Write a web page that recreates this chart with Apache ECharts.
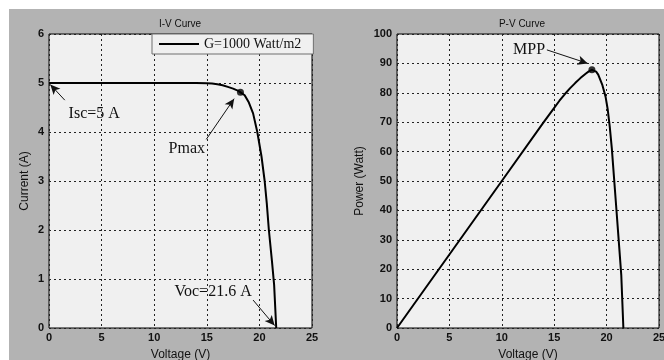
<!DOCTYPE html>
<html>
<head>
<meta charset="utf-8">
<script src="https://cdn.jsdelivr.net/npm/echarts@6/dist/echarts.min.js"></script>
<style>
  html, body { margin: 0; padding: 0; background: #ffffff; }
  #chart { width: 664px; height: 360px; }
</style>
</head>
<body>
<div id="chart"></div>
<script>
// I-V characteristic of the PV module at G = 1000 W/m2
const ivVoltage = [0, 5, 10, 14, 15, 15.5, 16, 16.5, 17, 17.5, 18, 18.2, 18.6, 19, 19.4, 19.8, 20.2, 20.5, 20.7, 20.9, 21.2, 21.4, 21.6];
const ivCurrent = [5, 5, 5, 5, 4.995, 4.99, 4.975, 4.955, 4.92, 4.885, 4.84, 4.81, 4.75, 4.6, 4.38, 4.0, 3.5, 3.0, 2.55, 2.0, 1.35, 0.88, 0];

// P-V characteristic of the same module
const pvVoltage = [0, 5, 10, 14, 15, 15.5, 16, 16.5, 17, 17.5, 18, 18.3, 18.6, 19, 19.2, 19.6, 19.9, 20.1, 20.3, 20.5, 20.7, 20.9, 21.2, 21.4, 21.6];
const pvPower = [0, 25, 50, 70, 74.9, 77.3, 79.5, 81.5, 83.3, 85, 86.5, 87.3, 87.8, 87.2, 86.2, 82.6, 78.7, 74.5, 68.5, 61, 51.5, 42, 27.7, 18, 0];

// Operating points marked on the curves
const pmaxPoint = [18.2, 4.81];
const mppPoint = [18.6, 87.8];

// Axis ticks
const voltageTicks = [0, 5, 10, 15, 20, 25];
const currentTicks = [0, 1, 2, 3, 4, 5, 6];
const powerTicks = [0, 10, 20, 30, 40, 50, 60, 70, 80, 90, 100];

const legendName = 'G=1000 Watt/m2';

const chart = echarts.init(document.getElementById('chart'), null, { renderer: 'canvas' });

const sans = 'Liberation Sans, Arial, sans-serif';
const serif = 'Liberation Serif, Times New Roman, serif';
const ink = '#111111';

function pairs(xs, ys) { return xs.map((x, i) => [x, ys[i]]); }

function gridLine() {
  return { show: true, lineStyle: { color: '#222', width: 1, type: [2, 3] } };
}

function valueAxis(extra) {
  return Object.assign({
    type: 'value',
    axisLine: { show: false },
    axisTick: { show: false },
    splitLine: gridLine(),
    nameTextStyle: { color: ink, fontFamily: sans, fontSize: 12 }
  }, extra);
}

function tickLabels(margin) {
  return { color: ink, fontFamily: sans, fontSize: 11, fontWeight: 'bold', margin: margin };
}

function noteStyle(text) {
  return { show: true, formatter: text, color: ink, fontFamily: serif, fontSize: 16 };
}

function arrow(from, to) {
  return [{ coord: from }, { coord: to }];
}

const arrowStyle = {
  silent: true,
  symbol: ['none', 'arrow'],
  symbolSize: [7, 10],
  lineStyle: { color: '#111', width: 1, type: 'solid' },
  label: { show: false },
  emphasis: { disabled: true },
  animation: false
};

const noteMarks = (items) => ({
  silent: true,
  symbol: 'circle',
  symbolSize: 0,
  itemStyle: { color: 'transparent' },
  animation: false,
  data: items.map(it => ({ coord: it.coord, label: noteStyle(it.text) }))
});

chart.setOption({
  backgroundColor: '#ffffff',
  animation: false,
  graphic: [{
    type: 'rect', z: -10, silent: true,
    shape: { x: 9, y: 9, width: 655, height: 351 },
    style: { fill: '#b3b3b3' }
  }],
  title: [
    { text: 'I-V Curve', left: 175, top: 14, textAlign: 'center',
      textStyle: { color: ink, fontFamily: sans, fontSize: 10, fontWeight: 'normal' } },
    { text: 'P-V Curve', left: 517, top: 14, textAlign: 'center',
      textStyle: { color: ink, fontFamily: sans, fontSize: 10, fontWeight: 'normal' } }
  ],
  legend: {
    data: [{ name: legendName, icon: 'rect' }],
    selectedMode: false,
    left: 152, top: 34,
    orient: 'horizontal',
    itemWidth: 40, itemHeight: 2,
    padding: [3, 12, 3, 7],
    backgroundColor: '#f0f0f0',
    borderColor: '#6f6f6f', borderWidth: 1, borderRadius: 0,
    textStyle: { color: ink, fontFamily: serif, fontSize: 14 }
  },
  grid: [
    { left: 49, top: 34, width: 263, height: 294, show: true, outerBoundsMode: 'none', containLabel: false,
      backgroundColor: '#f0f0f0', borderColor: '#000', borderWidth: 1 },
    { left: 397, top: 34, width: 262, height: 294, show: true, outerBoundsMode: 'none', containLabel: false,
      backgroundColor: '#f0f0f0', borderColor: '#000', borderWidth: 1 }
  ],
  xAxis: [
    valueAxis({ gridIndex: 0, min: voltageTicks[0], max: voltageTicks[voltageTicks.length - 1], interval: 5,
      name: 'Voltage (V)', nameLocation: 'middle', nameGap: 21, axisLabel: tickLabels(4) }),
    valueAxis({ gridIndex: 1, min: voltageTicks[0], max: voltageTicks[voltageTicks.length - 1], interval: 5,
      name: 'Voltage (V)', nameLocation: 'middle', nameGap: 21, axisLabel: tickLabels(4) })
  ],
  yAxis: [
    valueAxis({ gridIndex: 0, min: currentTicks[0], max: currentTicks[currentTicks.length - 1], interval: 1,
      name: 'Current (A)', nameLocation: 'middle', nameGap: 18, axisLabel: tickLabels(5) }),
    valueAxis({ gridIndex: 1, min: powerTicks[0], max: powerTicks[powerTicks.length - 1], interval: 10,
      name: 'Power (Watt)', nameLocation: 'middle', nameGap: 31, axisLabel: tickLabels(5) })
  ],
  series: [
    {
      name: legendName, type: 'line', xAxisIndex: 0, yAxisIndex: 0,
      data: pairs(ivVoltage, ivCurrent),
      showSymbol: false,
      lineStyle: { color: '#000', width: 2 }, itemStyle: { color: '#000' },
      markLine: Object.assign({}, arrowStyle, {
        data: [
          arrow([1.5, 4.65], [0.12, 4.97]),
          arrow([14.95, 3.85], [17.6, 4.68]),
          arrow([19.4, 0.57], [21.45, 0.05])
        ]
      }),
      markPoint: noteMarks([
        { coord: [4.3, 4.38], text: 'Isc=5 A' },
        { coord: [13.1, 3.66], text: 'Pmax' },
        { coord: [15.6, 0.74], text: 'Voc=21.6 A' }
      ])
    },
    {
      name: 'Pmax', type: 'scatter', xAxisIndex: 0, yAxisIndex: 0,
      data: [pmaxPoint], symbolSize: 7, itemStyle: { color: '#000' }, silent: true
    },
    {
      name: 'P-V', type: 'line', xAxisIndex: 1, yAxisIndex: 1,
      data: pairs(pvVoltage, pvPower),
      showSymbol: false,
      lineStyle: { color: '#000', width: 2 }, itemStyle: { color: '#000' },
      markLine: Object.assign({}, arrowStyle, {
        data: [ arrow([14.3, 94.6], [18.2, 90.0]) ]
      }),
      markPoint: noteMarks([
        { coord: [12.6, 94.7], text: 'MPP' }
      ])
    },
    {
      name: 'MPP', type: 'scatter', xAxisIndex: 1, yAxisIndex: 1,
      data: [mppPoint], symbolSize: 7, itemStyle: { color: '#000' }, silent: true
    }
  ]
});
</script>
</body>
</html>
